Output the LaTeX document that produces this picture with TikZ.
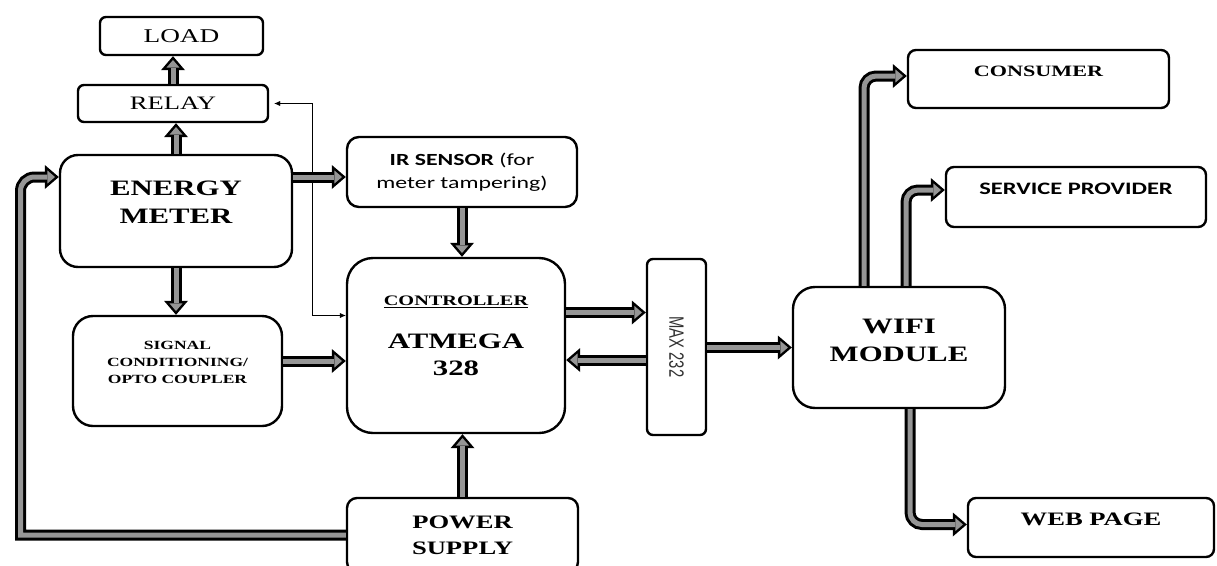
\documentclass[tikz,border=0pt]{standalone}
\usepackage{fontspec}
\usepackage{graphicx}
\usepackage{tikz}
\usetikzlibrary{arrows.meta,calc}
\setmainfont{Liberation Serif}[FakeStretch=1.4]
\newfontfamily\calibw{Carlito}[FakeStretch=1.4]
\newfontfamily\arialn{Liberation Sans}
\definecolor{PipeGray}{RGB}{150,150,150}
\definecolor{TextGray}{RGB}{50,50,50}

\begin{document}
\begin{tikzpicture}[x=1pt, y=-1pt, >=Latex,
    box/.style={draw, line width=2.4pt, fill=white, inner sep=0pt, align=center},
    pipe/.style={line width=5pt, draw=PipeGray,
        -{Triangle[length=7.7pt,width=13.2pt,line width=0pt]}, shorten >=3.8pt,
        preaction={draw=black, line width=11pt,
            -{Triangle[length=14pt,width=24pt,line width=0pt]}, shorten >=0pt}},
    link/.style={thin, <->, >={Latex[length=6pt,width=5pt]}},
    bigtxt/.style={font=\bfseries\fontsize{22}{28}\selectfont, align=center}]
    \useasboundingbox (0,0) rectangle (1217,565);

    % left column
    \node[box, rounded corners=6pt, minimum width=163pt, minimum height=38pt,
        font=\fontsize{19.5}{22}\selectfont] (load) at (181.5,36) {LOAD};
    \node[box, rounded corners=6pt, minimum width=190pt, minimum height=37pt,
        font=\fontsize{19}{22}\selectfont] (relay) at (173,103.5) {RELAY};
    \node[box, rounded corners=18pt, minimum width=232pt, minimum height=112pt] (em) at (176,211) {};
    \node[bigtxt] (emtxt) at (176,202.5) {ENERGY\\METER};
    \node[box, rounded corners=20pt, minimum width=209pt, minimum height=110pt] (sig) at (177.5,371) {};
    \node[font=\bfseries\fontsize{12.5}{17}\selectfont, align=center] (sigtxt) at (177.5,362)
        {SIGNAL\\CONDITIONING/\\OPTO COUPLER};

    % middle column
    \node[box, rounded corners=12pt, minimum width=230pt, minimum height=70pt,
        font=\calibw\fontsize{17}{23}\selectfont] (ir) at (462,172)
        {\textbf{IR SENSOR} (for\\meter tampering)};
    \node[box, rounded corners=26pt, minimum width=218pt, minimum height=175pt] (ctrl) at (456,345.5) {};
    \node[font=\bfseries\fontsize{14.5}{17}\selectfont] (ctrltitle) at (456,302) {\underline{CONTROLLER}};
    \node[bigtxt, font=\bfseries\fontsize{22}{27}\selectfont] (ctrlname) at (456,354.5) {ATMEGA\\328};
    \node[box, rounded corners=10pt, minimum width=231pt, minimum height=74pt,
        font=\bfseries\fontsize{19}{26}\selectfont] (ps) at (462.5,535) {POWER\\SUPPLY};
    \node[box, rounded corners=6pt, minimum width=59pt, minimum height=176pt, text=TextGray] (max) at (676.5,347)
        {\rotatebox{-90}{\scalebox{1}[1.4]{\arialn\fontsize{14.8}{16}\selectfont MAX 232}}};

    % right column
    \node[box, rounded corners=22pt, minimum width=212pt, minimum height=121pt] (wifi) at (899,347.5) {};
    \node[bigtxt] (wifitxt) at (899,340) {WIFI\\MODULE};
    \node[box, rounded corners=8pt, minimum width=261pt, minimum height=58pt] (cons) at (1038.5,79) {};
    \node[font=\bfseries\fontsize{15.8}{18}\selectfont] (constxt) at (1038.5,71) {CONSUMER};
    \node[box, rounded corners=8pt, minimum width=260pt, minimum height=60pt] (sp) at (1076,197) {};
    \node[font=\calibw\bfseries\fontsize{17.5}{20}\selectfont] (sptxt) at (1076,189) {SERVICE PROVIDER};
    \node[box, rounded corners=8pt, minimum width=246pt, minimum height=59pt] (web) at (1091,527.5) {};
    \node[font=\bfseries\fontsize{19}{22}\selectfont] (webtxt) at (1091,519) {WEB PAGE};

    % thin control line to the relay
    \coordinate (tap) at (312,0);
    \draw[link, shorten <=5pt] (relay.east) -- (relay.east -| tap) |- ([yshift=30pt]ctrl.west);

    % power and signal paths
    \draw[pipe] (relay.north) -- (relay.north |- load.south);
    \draw[pipe] (em.north) -- (em.north |- relay.south);
    \draw[pipe] (em.south) -- (em.south |- sig.north);
    \draw[pipe] ([yshift=-5pt]ir.west -| em.east) -- ([yshift=-5pt]ir.west);
    \draw[pipe] (ir.south) -- (ir.south |- ctrl.north);
    \draw[pipe] ([yshift=10pt]sig.east) -- ([yshift=10pt]sig.east -| ctrl.west);
    \draw[pipe] (ps.north) -- (ps.north |- ctrl.south);
    \draw[pipe] ([yshift=33pt]ctrl.east) -- ([yshift=33pt]ctrl.east -| max.west);
    \draw[pipe] ([yshift=-13pt]max.west) -- ([yshift=-13pt]max.west -| ctrl.east);
    \draw[pipe] (max.east |- wifi.west) -- (wifi.west);

    % supply loop back to the meter
    \coordinate (loopc) at (20.5,535);
    \coordinate (emin) at ([yshift=34pt]em.west);
    \draw[pipe] (ps.west) -- (loopc) [rounded corners=14pt] -- (loopc |- emin) -- (emin);

    % wifi outputs
    \draw[pipe, rounded corners=12pt] ([xshift=-35pt]wifi.north) |- ([yshift=3pt]cons.west);
    \draw[pipe, rounded corners=12pt] ([xshift=7pt]wifi.north) |- ([yshift=7pt]sp.west);
    \draw[pipe, rounded corners=12pt] ([xshift=11pt]wifi.south) |- ([yshift=3pt]web.west);
\end{tikzpicture}
\end{document}
